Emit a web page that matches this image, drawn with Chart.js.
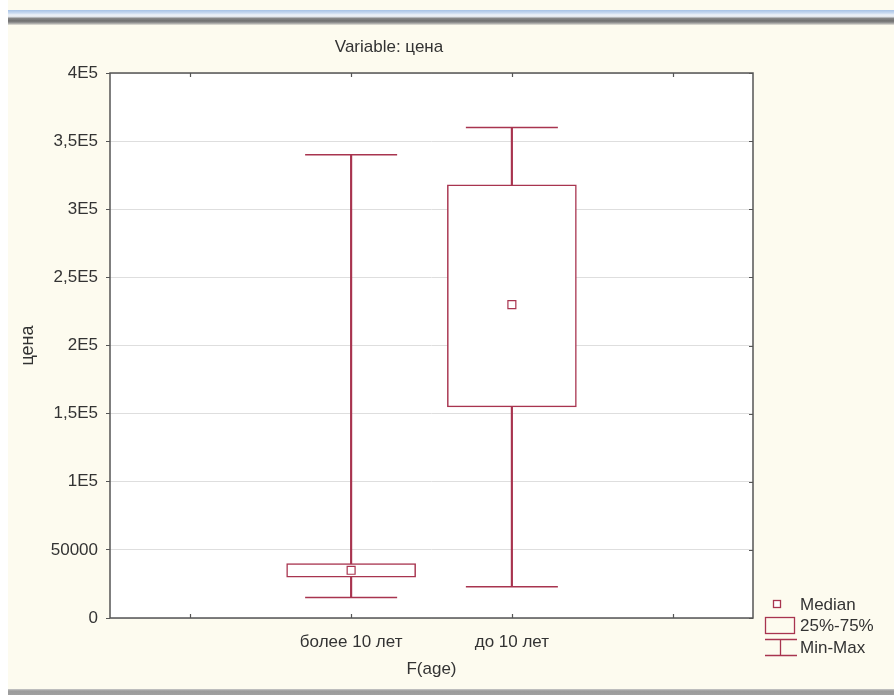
<!DOCTYPE html>
<html>
<head>
<meta charset="utf-8">
<script src="https://cdn.jsdelivr.net/npm/chart.js@4.4.1/dist/chart.umd.min.js"></script>
<style>
  html, body { margin: 0; padding: 0; background: #ffffff; }
  #page { position: relative; width: 894px; height: 695px; overflow: hidden; background: #ffffff; }
  #panel { position: absolute; left: 8px; top: 0; width: 886px; height: 695px; background: #fdfbef; }
  #bandTop { position: absolute; left: 8px; top: 10px; width: 886px; height: 15px;
    background: linear-gradient(to bottom, #a6c2e6 0px, #c9daf0 3px, #eef2f8 5px, #dfe4ea 7px, #8a8a8a 8px, #6f6f6f 11px, #9a9a9a 13px, #e8e6dc 15px); }
  #bandBottom { position: absolute; left: 8px; top: 689px; width: 886px; height: 6px;
    background: linear-gradient(to bottom, #c8c8c8 0px, #9b9b9b 2px, #a0a0a0 6px); }
  #wrap { position: absolute; left: 0; top: 0; width: 894px; height: 695px; }
</style>
</head>
<body>
<div id="page">
  <div id="panel"></div>
  <div id="bandTop"></div>
  <div id="bandBottom"></div>
  <div id="wrap"><canvas id="chart" width="894" height="695"></canvas></div>
</div>
<script>
// Groups of the F(age) factor; the outer empty slots pad the axis.
const categories = ['', 'более 10 лет', 'до 10 лет', ''];
// Box plot statistics of "цена" per group
const minValues    = [null, 15000, 23000, null];
const q1Values     = [null, 30000, 155000, null];
const medianValues = [null, 35000, 230000, null];
const q3Values     = [null, 40000, 318000, null];
const maxValues    = [null, 340000, 360000, null];
// Y-axis tick labels, 0 .. 4E5 in steps of 50000
const yTickLabels = ['0', '50000', '1E5', '1,5E5', '2E5', '2,5E5', '3E5', '3,5E5', '4E5'];

const RED = '#a8344f';
const INK = '#333333';
const AXIS = '#555555';
const FONT = "'Liberation Sans', Arial, sans-serif";

const whiskerData = categories.map((c, i) => minValues[i] == null ? null : [minValues[i], maxValues[i]]);
const boxData = categories.map((c, i) => q1Values[i] == null ? null : [q1Values[i], q3Values[i]]);
const capData = [];
categories.forEach((c, i) => {
  if (minValues[i] != null) {
    capData.push({ x: c, y: minValues[i] });
    capData.push({ x: c, y: maxValues[i] });
  }
});
const medianData = categories.map((c, i) => medianValues[i]);

// White plot area, frame, inner tick marks, heading and key
const framePlugin = {
  id: 'frame',
  beforeDraw(chart) {
    const { ctx, chartArea: a } = chart;
    ctx.save();
    ctx.fillStyle = '#ffffff';
    ctx.fillRect(a.left, a.top, a.right - a.left, a.bottom - a.top);
    ctx.restore();
  },
  afterDraw(chart) {
    const { ctx, chartArea: a, scales } = chart;
    ctx.save();
    ctx.strokeStyle = AXIS;
    ctx.lineWidth = 1.5;
    ctx.strokeRect(a.left, a.top, a.right - a.left, a.bottom - a.top);
    ctx.lineWidth = 1.2;
    ctx.beginPath();
    scales.x.ticks.forEach((t, i) => {
      const x = Math.round(scales.x.getPixelForTick(i)) + 0.5;
      ctx.moveTo(x, a.bottom); ctx.lineTo(x, a.bottom - 4);
      ctx.moveTo(x, a.top); ctx.lineTo(x, a.top + 4);
    });
    scales.y.ticks.forEach((t, i) => {
      const y = Math.round(scales.y.getPixelForTick(i)) + 0.5;
      ctx.moveTo(a.right, y); ctx.lineTo(a.right - 4, y);
    });
    ctx.stroke();

    // Chart heading
    ctx.fillStyle = INK;
    ctx.font = '17px ' + FONT;
    ctx.textAlign = 'center';
    ctx.textBaseline = 'middle';
    ctx.fillText('Variable: цена', 389, 47);

    // Key: Median, 25%-75%, Min-Max
    ctx.strokeStyle = RED;
    ctx.lineWidth = 1.3;
    ctx.fillStyle = '#ffffff';
    ctx.fillRect(773.5, 600.5, 7, 7);
    ctx.strokeRect(773.5, 600.5, 7, 7);
    ctx.strokeRect(765.5, 617.5, 29, 16);
    ctx.beginPath();
    ctx.moveTo(765, 639.5); ctx.lineTo(797, 639.5);
    ctx.moveTo(780.5, 639.5); ctx.lineTo(780.5, 655.5);
    ctx.moveTo(765, 655.5); ctx.lineTo(797, 655.5);
    ctx.stroke();
    ctx.fillStyle = INK;
    ctx.font = '17px ' + FONT;
    ctx.textAlign = 'left';
    ctx.fillText('Median', 800, 605);
    ctx.fillText('25%-75%', 800, 626);
    ctx.fillText('Min-Max', 800, 648);
    ctx.restore();
  }
};

new Chart(document.getElementById('chart'), {
  data: {
    labels: categories,
    datasets: [
      {
        type: 'line', label: 'Median', data: medianData, showLine: false,
        pointStyle: 'rect', pointRadius: 5.6, pointHoverRadius: 5.6,
        pointBackgroundColor: '#ffffff', pointBorderColor: RED, pointBorderWidth: 1.2,
        order: 0
      },
      {
        type: 'line', label: 'Min-Max caps', data: capData, showLine: false,
        pointStyle: 'line', pointRadius: 46, pointHoverRadius: 46,
        pointBorderColor: RED, pointBorderWidth: 1.5, borderColor: RED,
        order: 1
      },
      {
        type: 'bar', label: '25%-75%', data: boxData, grouped: false,
        backgroundColor: '#ffffff', borderColor: RED, borderWidth: 1.5,
        borderSkipped: false, barThickness: 129,
        order: 2
      },
      {
        type: 'bar', label: 'Min-Max', data: whiskerData, grouped: false,
        backgroundColor: RED, borderWidth: 0, barThickness: 1.5,
        order: 3
      }
    ]
  },
  options: {
    responsive: false,
    animation: false,
    events: [],
    layout: { padding: { left: 8, right: 141, top: 73, bottom: 15 } },
    plugins: {
      legend: { display: false },
      tooltip: { enabled: false },
      title: { display: false }
    },
    scales: {
      x: {
        type: 'category',
        offset: true,
        grid: { display: false },
        border: { display: false },
        ticks: { color: INK, font: { family: FONT, size: 17 }, padding: 6, maxRotation: 0, autoSkip: false },
        title: { display: true, text: 'F(age)', color: INK, font: { family: FONT, size: 17 }, padding: { top: 2, bottom: 0 } },
        afterFit(scale) { scale.height = 62; }
      },
      y: {
        type: 'linear',
        min: 0, max: 400000,
        grid: { color: '#dedede', lineWidth: 1, tickColor: AXIS, tickLength: 4, drawTicks: true },
        border: { display: false },
        ticks: {
          stepSize: 50000, color: INK, font: { family: FONT, size: 17 }, padding: 8,
          callback: (v, i) => yTickLabels[i]
        },
        title: { display: true, text: 'цена', color: INK, font: { family: FONT, size: 18 }, padding: { top: 9, bottom: 0 } },
        afterFit(scale) { scale.width = 102; }
      }
    }
  },
  plugins: [framePlugin]
});
</script>
</body>
</html>
